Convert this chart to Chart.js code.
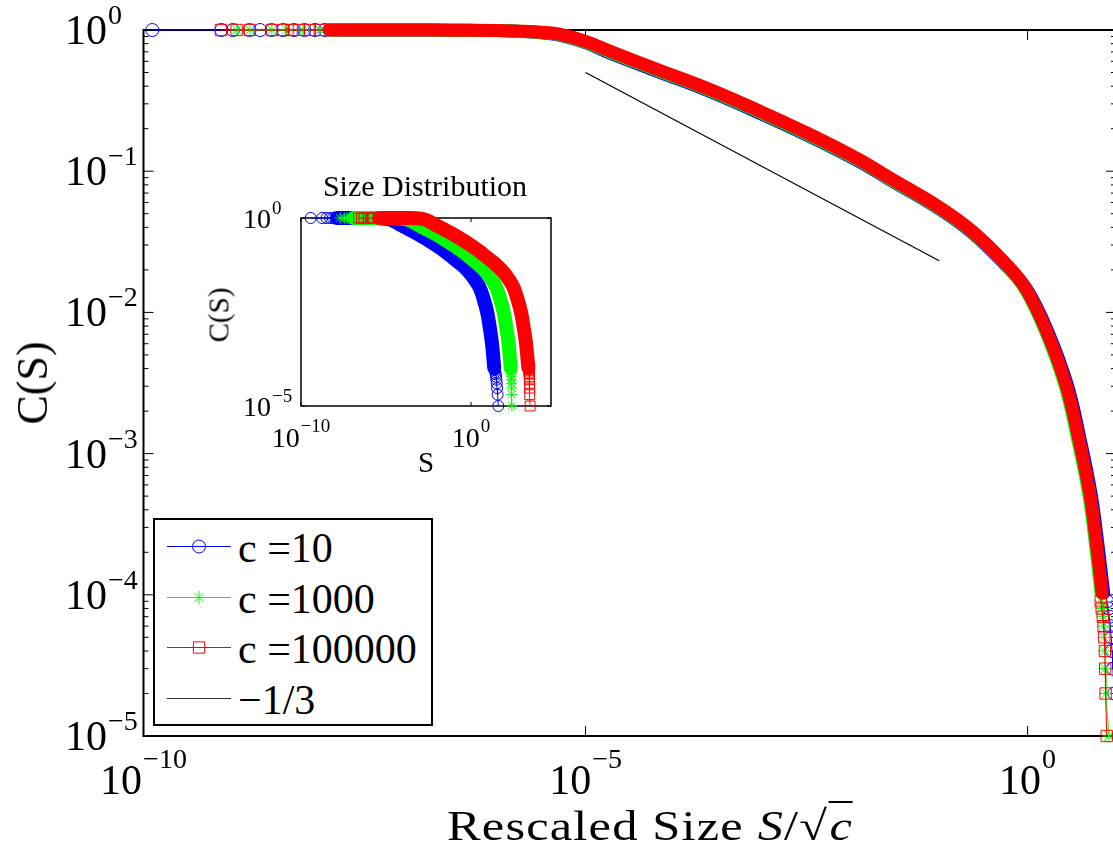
<!DOCTYPE html>
<html>
<head>
<meta charset="utf-8">
<title>Rescaled size distribution</title>
<script src="https://cdn.jsdelivr.net/npm/chart.js@4.4.1/dist/chart.umd.min.js"></script>
<style>
  html, body { margin: 0; padding: 0; background: #fff; overflow: hidden; }
  #page { position: relative; width: 1113px; height: 853px; overflow: hidden; font-family: 'Liberation Serif', 'Times New Roman', serif; color: #000; }
  canvas { position: absolute; }
  #mainChart { left: 0; top: 0; }
  #insetChart { left: 200px; top: 160px; }
  .txt { position: absolute; white-space: nowrap; line-height: 1; }
  #ylab { font-size: 44px; left: 33px; top: 383px; transform: translate(-50%, -50%) rotate(-90deg); }
  #xlab { font-size: 42px; left: 650px; top: 826px; transform: translate(-50%, -50%) scaleX(1.2); letter-spacing: 1px; }
  #xlab .ol { border-top: 2px solid #000; padding-left: 1px; }
  #insetTitle { font-size: 30px; left: 425px; top: 186px; transform: translate(-50%, -50%); }
  #insetYlab { font-size: 29px; left: 219px; top: 315px; transform: translate(-50%, -50%) rotate(-90deg); }
  #insetXlab { font-size: 29px; left: 426px; top: 462px; transform: translate(-50%, -50%); }
  #legend { position: absolute; left: 153px; top: 518px; width: 280px; height: 208px; box-sizing: border-box; border: 2px solid #000; background: #fff; }
  #legend .row { position: absolute; left: 0; height: 40px; width: 100%; }
  #legend .row canvas { left: 12px; top: 5px; }
  #legend .row span { position: absolute; left: 83px; top: 2px; font-size: 42px; line-height: 40px; }
</style>
</head>
<body>
<div id="page">
  <canvas id="mainChart" width="1125" height="853"></canvas>
  <canvas id="insetChart" width="370" height="330"></canvas>
  <div id="ylab" class="txt">C(S)</div>
  <div id="xlab" class="txt">Rescaled Size <i>S</i>/√<span class="ol"><i>c</i></span></div>
  <div id="insetTitle" class="txt">Size Distribution</div>
  <div id="insetYlab" class="txt">C(S)</div>
  <div id="insetXlab" class="txt">S</div>
  <div id="legend"></div>
</div>
<script>
// all values are log10 of S/sqrt(c) (main) or S (inset) and log10 of C(S)
const legendNames = ['c =10', 'c =1000', 'c =100000', '\u22121/3'];

// ---- main plot, rescaled size ----
const blueHeadS = [-9.90, -9.12, -8.99, -8.80, -8.68, -8.55, -8.42, -8.30, -8.18, -8.06, -7.95];
const blueHeadC = [0, 0, 0, 0, 0, 0, 0, 0, 0, 0, 0];
const blueBodyS = [-7.90, -7.00, -6.50, -6.00, -5.75, -5.50, -5.294, -5.00, -4.729, -4.164, -3.599, -3.034, -2.469, -1.904, -1.565, -1.00, -0.627, -0.243, -0.007, 0.221, 0.449, 0.596, 0.72, 0.796, 0.86];
const blueBodyC = [0, 0, -0.001, -0.004, -0.010, -0.020, -0.036, -0.090, -0.162, -0.298, -0.434, -0.588, -0.752, -0.932, -1.058, -1.267, -1.437, -1.668, -1.84, -2.125, -2.514, -2.904, -3.293, -3.647, -3.987];
const blueTailS = [0.90, 0.915, 0.925, 0.935, 0.945, 0.955, 0.965, 0.98, 1.03];
const blueTailC = [-4.046, -4.097, -4.155, -4.222, -4.301, -4.398, -4.523, -4.699, -5.0];

const greenHeadS = [-8.947, -8.797, -8.548, -8.382, -8.198, -8.006];
const greenHeadC = [0, 0, 0, 0, 0, 0];
const greenBodyS = [-7.90, -7.00, -6.50, -6.00, -5.75, -5.50, -5.294, -5.00, -4.729, -4.164, -3.599, -3.034, -2.469, -1.904, -1.565, -1.00, -0.627, -0.243, -0.027, 0.197, 0.422, 0.568, 0.693, 0.768, 0.83];
const greenBodyC = [0, 0, -0.001, -0.003, -0.009, -0.018, -0.033, -0.085, -0.155, -0.291, -0.426, -0.580, -0.744, -0.925, -1.052, -1.261, -1.431, -1.663, -1.835, -2.125, -2.514, -2.904, -3.293, -3.647, -3.987];
const greenTailS = [0.835, 0.845, 0.853, 0.86, 0.867, 0.873, 0.878, 0.885, 0.92];
const greenTailC = [-4.046, -4.097, -4.155, -4.222, -4.301, -4.398, -4.523, -4.699, -5.0];

const redHeadS = [-9.124, -8.947, -8.797, -8.548, -8.424, -8.325, -8.243, -8.119, -8.006];
const redHeadC = [0, 0, 0, 0, 0, 0, 0, 0, 0];
const redBodyS = [-7.90, -7.00, -6.50, -6.00, -5.75, -5.50, -5.294, -5.00, -4.729, -4.164, -3.599, -3.034, -2.469, -1.904, -1.565, -1.00, -0.627, -0.243, -0.017, 0.209, 0.435, 0.582, 0.706, 0.780, 0.842];
const redBodyC = [0, 0, -0.001, -0.003, -0.008, -0.016, -0.030, -0.080, -0.149, -0.285, -0.420, -0.574, -0.738, -0.919, -1.046, -1.255, -1.425, -1.658, -1.835, -2.125, -2.514, -2.904, -3.293, -3.647, -3.987];
const redTailS = [0.827, 0.838, 0.85, 0.86, 0.868, 0.874, 0.878, 0.882, 0.895];
const redTailC = [-4.046, -4.097, -4.155, -4.222, -4.301, -4.398, -4.523, -4.699, -5.0];

const slopeS = [-5.0, -1.0];
const slopeC = [-0.301, -1.634];

const mainXTickExp = [-10, -5, 0, 1];
const mainXLabelExp = [-10, -5, 0];
const mainYTickExp = [0, -1, -2, -3, -4, -5];

// ---- inset, raw size ----
const inBlueHeadS = [-9.43, -8.76, -8.50, -8.30, -8.12];
const inBlueHeadC = [0, 0, 0, 0, 0];
const inBlueBodyS = [-7.90, -6.50, -6.00, -5.50, -5.25, -5.00, -4.794, -4.50, -4.229, -3.664, -3.099, -2.534, -1.969, -1.404, -1.065, -0.50, -0.127, 0.257, 0.493, 0.721, 0.949, 1.096, 1.22, 1.296, 1.36];
const inBlueBodyC = [0, 0, -0.001, -0.004, -0.010, -0.020, -0.036, -0.090, -0.162, -0.298, -0.434, -0.588, -0.752, -0.932, -1.058, -1.267, -1.437, -1.668, -1.84, -2.125, -2.514, -2.904, -3.293, -3.647, -3.987];
const inBlueTailS = [1.40, 1.43, 1.45, 1.47, 1.49, 1.51, 1.53, 1.56, 1.60];
const inBlueTailC = [-4.046, -4.097, -4.155, -4.222, -4.301, -4.398, -4.523, -4.699, -5.0];

const inGreenHeadS = [-7.70, -7.45, -7.30, -7.15, -7.00];
const inGreenHeadC = [0, 0, 0, 0, 0];
const inGreenBodyS = [-6.90, -5.50, -5.00, -4.50, -4.25, -4.00, -3.794, -3.50, -3.229, -2.664, -2.099, -1.534, -0.969, -0.404, -0.065, 0.50, 0.873, 1.257, 1.473, 1.697, 1.922, 2.068, 2.193, 2.268, 2.33];
const inGreenBodyC = [0, 0, -0.001, -0.003, -0.009, -0.018, -0.033, -0.085, -0.155, -0.291, -0.426, -0.580, -0.744, -0.925, -1.052, -1.261, -1.431, -1.663, -1.835, -2.125, -2.514, -2.904, -3.293, -3.647, -3.987];
const inGreenTailS = [2.34, 2.35, 2.36, 2.37, 2.375, 2.38, 2.385, 2.39, 2.40];
const inGreenTailC = [-4.046, -4.097, -4.155, -4.222, -4.301, -4.398, -4.523, -4.699, -5.0];

const inRedHeadS = [-6.62, -6.45, -6.30, -6.05, -5.92, -5.80];
const inRedHeadC = [0, 0, 0, 0, 0, 0];
const inRedBodyS = [-5.40, -4.50, -4.00, -3.50, -3.25, -3.00, -2.794, -2.50, -2.229, -1.664, -1.099, -0.534, 0.031, 0.596, 0.935, 1.50, 1.873, 2.257, 2.483, 2.709, 2.94, 3.09, 3.22, 3.30, 3.37];
const inRedBodyC = [0, 0, -0.001, -0.003, -0.008, -0.016, -0.030, -0.080, -0.149, -0.285, -0.420, -0.574, -0.738, -0.919, -1.046, -1.255, -1.425, -1.658, -1.835, -2.125, -2.514, -2.904, -3.293, -3.647, -3.987];
const inRedTailS = [3.40, 3.41, 3.42, 3.43, 3.44, 3.44, 3.45, 3.45, 3.47];
const inRedTailC = [-4.046, -4.097, -4.155, -4.222, -4.301, -4.398, -4.523, -4.699, -5.0];

const insetXMaxExp = 4.7;
const insetXTickExp = [-10, 0];
const insetYTickExp = [0, -5];

const FONT = '"Liberation Serif", "Times New Roman", serif';
const styles = [
  { color: '#0000ff', marker: 'circle', r: 6.5, ri: 5.5 },
  { color: '#00ff00', marker: 'star', r: 6.5, ri: 5.5 },
  { color: '#ff0000', marker: 'rect', r: 8, ri: 7 }
];

function toPoints(logS, logC, mark) {
  return logS.map((s, i) => ({ x: Math.pow(10, s), y: Math.pow(10, logC[i]), mark }));
}

function seriesSets(st, head, body, tail, order, radius, bandWidth) {
  const all = toPoints(head[0], head[1], true)
    .concat(toPoints(body[0], body[1], false))
    .concat(toPoints(tail[0], tail[1], true));
  return [
    {
      data: toPoints(body[0], body[1], false),
      borderColor: st.color, borderWidth: bandWidth,
      borderJoinStyle: 'round', borderCapStyle: 'round',
      tension: 0.4,
      pointRadius: 0, showLine: true, clip: false, order: order + 1
    },
    {
      data: all,
      borderColor: st.color, borderWidth: 1,
      pointStyle: st.marker,
      pointRadius: c => (c.raw && c.raw.mark ? radius : 0),
      pointBorderColor: st.color, pointBackgroundColor: 'rgba(0,0,0,0)', pointBorderWidth: 1,
      showLine: true, clip: false, order
    }
  ];
}

function expText(e) { return e < 0 ? '\u2212' + (-e) : String(e); }

// matlab-like box, inward ticks and 10^n labels
const frameAxes = {
  id: 'frameAxes',
  beforeDatasetsDraw(chart, args, o) {
    const { ctx, chartArea: a } = chart;
    const xs = chart.scales.x, ys = chart.scales.y;
    ctx.save();
    ctx.fillStyle = '#fff';
    ctx.fillRect(a.left, a.top, a.right - a.left, a.bottom - a.top);
    ctx.strokeStyle = '#000';
    ctx.lineWidth = o.frameWidth;
    ctx.strokeRect(a.left, a.top, a.right - a.left, a.bottom - a.top);

    ctx.lineWidth = 1;
    ctx.beginPath();
    o.xTicks.forEach(e => {
      const px = xs.getPixelForValue(Math.pow(10, e));
      ctx.moveTo(px, a.bottom); ctx.lineTo(px, a.bottom - o.major);
      ctx.moveTo(px, a.top); ctx.lineTo(px, a.top + o.major);
    });
    o.yTicks.forEach(e => {
      const py = ys.getPixelForValue(Math.pow(10, e));
      ctx.moveTo(a.left, py); ctx.lineTo(a.left + o.major, py);
      ctx.moveTo(a.right, py); ctx.lineTo(a.right - o.major, py);
    });
    if (o.yMinor) {
      for (let d = -5; d < 0; d++) {
        for (let m = 2; m <= 9; m++) {
          const py = ys.getPixelForValue(m * Math.pow(10, d));
          ctx.moveTo(a.left, py); ctx.lineTo(a.left + o.minor, py);
          ctx.moveTo(a.right, py); ctx.lineTo(a.right - o.minor, py);
        }
      }
    }
    ctx.stroke();

    const big = o.size + 'px ' + FONT, small = o.expSize + 'px ' + FONT;
    ctx.fillStyle = '#000';
    ctx.textBaseline = 'alphabetic';
    o.yTicks.forEach(e => {
      const py = ys.getPixelForValue(Math.pow(10, e));
      ctx.font = big; ctx.textAlign = 'right';
      ctx.fillText('10', a.left + o.yTenRight, py + o.yTenDy);
      ctx.font = small; ctx.textAlign = 'left';
      ctx.fillText(expText(e), a.left + o.yTenRight + 1, py + o.yExpDy);
    });
    ctx.textAlign = 'left';
    o.xLabels.forEach(e => {
      const px = xs.getPixelForValue(Math.pow(10, e));
      ctx.font = big; const w1 = ctx.measureText('10').width;
      ctx.font = small; const w2 = ctx.measureText(expText(e)).width;
      const left = px - (w1 + 1 + w2) / 2;
      ctx.font = big; ctx.fillText('10', left, a.bottom + o.xTenBase);
      ctx.font = small; ctx.fillText(expText(e), left + w1 + 1, a.bottom + o.xExpBase);
    });
    ctx.restore();
  }
};

const mainSets = [].concat(
  seriesSets(styles[0], [blueHeadS, blueHeadC], [blueBodyS, blueBodyC], [blueTailS, blueTailC], 5, styles[0].r, 13),
  seriesSets(styles[1], [greenHeadS, greenHeadC], [greenBodyS, greenBodyC], [greenTailS, greenTailC], 3, styles[1].r, 13),
  seriesSets(styles[2], [redHeadS, redHeadC], [redBodyS, redBodyC], [redTailS, redTailC], 1, styles[2].r, 13),
  [{
    data: toPoints(slopeS, slopeC, false),
    borderColor: '#000', borderWidth: 1.2, pointRadius: 0, showLine: true, order: 0
  }]
);

new Chart(document.getElementById('mainChart'), {
  type: 'scatter',
  data: { datasets: mainSets },
  plugins: [frameAxes],
  options: {
    responsive: false, animation: false, events: [],
    layout: { padding: { left: 143.5, top: 30, right: 8, bottom: 117 } },
    scales: {
      x: { type: 'logarithmic', min: 1e-10, max: 10, display: false },
      y: { type: 'logarithmic', min: 1e-5, max: 1, display: false }
    },
    plugins: {
      legend: { display: false }, tooltip: { enabled: false },
      frameAxes: {
        frameWidth: 2, major: 10, minor: 5, yMinor: true,
        xTicks: mainXTickExp, xLabels: mainXLabelExp, yTicks: mainYTickExp,
        size: 42, expSize: 28, yTenRight: -36.5, yTenDy: 14, yExpDy: -6,
        xTenBase: 58, xExpBase: 32
      }
    }
  }
});

const insetSets = [].concat(
  seriesSets(styles[0], [inBlueHeadS, inBlueHeadC], [inBlueBodyS, inBlueBodyC], [inBlueTailS, inBlueTailC], 5, styles[0].ri, 14),
  seriesSets(styles[1], [inGreenHeadS, inGreenHeadC], [inGreenBodyS, inGreenBodyC], [inGreenTailS, inGreenTailC], 3, styles[1].ri, 14),
  seriesSets(styles[2], [inRedHeadS, inRedHeadC], [inRedBodyS, inRedBodyC], [inRedTailS, inRedTailC], 1, styles[2].ri, 14)
);

new Chart(document.getElementById('insetChart'), {
  type: 'scatter',
  data: { datasets: insetSets },
  plugins: [frameAxes],
  options: {
    responsive: false, animation: false, events: [],
    layout: { padding: { left: 101, top: 58, right: 19, bottom: 84 } },
    scales: {
      x: { type: 'logarithmic', min: 1e-10, max: Math.pow(10, insetXMaxExp), display: false },
      y: { type: 'logarithmic', min: 1e-5, max: 1, display: false }
    },
    plugins: {
      legend: { display: false }, tooltip: { enabled: false },
      frameAxes: {
        frameWidth: 1.5, major: 4, minor: 2, yMinor: false,
        xTicks: insetXTickExp, xLabels: insetXTickExp, yTicks: insetYTickExp,
        size: 28, expSize: 19, yTenRight: -30, yTenDy: 9.5, yExpDy: -4,
        xTenBase: 41, xExpBase: 26
      }
    }
  }
});

// legend: line with marker, as in the figure
const legendRows = [
  { st: styles[0] }, { st: styles[1] }, { st: styles[2] }, { st: { color: '#333', marker: null } }
];
const rowCenters = [26, 77, 127, 178];
const legendBox = document.getElementById('legend');
legendRows.forEach((row, i) => {
  const div = document.createElement('div');
  div.className = 'row';
  div.style.top = (rowCenters[i] - 20) + 'px';
  const cv = document.createElement('canvas');
  cv.width = 64; cv.height = 30;
  const c = cv.getContext('2d');
  c.strokeStyle = row.st.color; c.lineWidth = 1;
  c.beginPath(); c.moveTo(0, 15.5); c.lineTo(64, 15.5); c.stroke();
  if (row.st.marker) {
    c.fillStyle = 'rgba(0,0,0,0)';
    Chart.helpers.drawPoint(c, { pointStyle: row.st.marker, radius: row.st.r, rotation: 0, borderWidth: 1 }, 32, 15.5);
  }
  div.appendChild(cv);
  const t = document.createElement('span');
  t.textContent = legendNames[i];
  div.appendChild(t);
  legendBox.appendChild(div);
});
</script>
</body>
</html>
